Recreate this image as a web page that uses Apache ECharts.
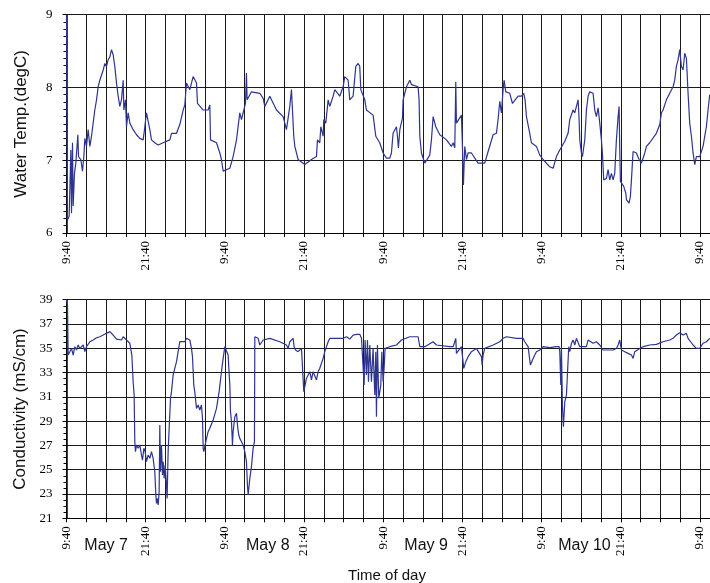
<!DOCTYPE html>
<html>
<head>
<meta charset="utf-8">
<script src="https://cdn.jsdelivr.net/npm/echarts@6/dist/echarts.min.js"></script>
<style>
  html, body { margin: 0; padding: 0; background: #fff; }
  #chart { width: 710px; height: 583px; }
</style>
</head>
<body>
<div id="chart"></div>
<script>
// hours since May 7 9:40
const clockHours = [0, 12, 24, 36, 48, 60, 72, 84, 96];
const clockLabels = ['9:40', '21:40', '9:40', '21:40', '9:40', '21:40', '9:40', '21:40', '9:40'];
const dayHours = [6, 30.5, 54.5, 78.5];
const dayLabels = ['May 7', 'May 8', 'May 9', 'May 10'];

// [hours, degC]
const waterTemp = [[0,9],[0.15,6.18],[0.4,6.23],[0.66,7.14],[0.76,6.27],[0.91,7.24],[1.01,6.37],[1.21,6.82],[1.41,6.96],[1.72,7.35],[1.82,7.05],[2.17,7.01],[2.42,6.85],[2.63,7.05],[2.78,7.3],[3.03,7.19],[3.28,7.42],[3.54,7.19],[3.79,7.33],[4.04,7.51],[4.29,7.69],[4.55,7.83],[4.8,8.01],[5.05,8.1],[5.3,8.08],[5.56,8.24],[5.81,8.33],[6.06,8.29],[6.31,8.38],[6.57,8.42],[6.82,8.52],[7.07,8.45],[7.32,8.29],[7.58,8.06],[7.83,7.88],[8.08,7.74],[8.33,7.83],[8.59,8.1],[8.69,7.69],[8.94,7.83],[9.09,7.46],[9.34,7.65],[9.6,7.51],[10.1,7.42],[10.61,7.35],[11.11,7.3],[11.62,7.28],[11.87,7.46],[12.12,7.65],[12.37,7.65],[12.63,7.42],[12.88,7.28],[13.38,7.24],[13.89,7.21],[14.65,7.24],[15.66,7.28],[15.91,7.37],[16.67,7.37],[17.17,7.49],[17.68,7.69],[17.93,7.76],[18.18,8.06],[18.69,7.97],[19.19,8.15],[19.44,8.17],[19.7,8.06],[19.85,7.78],[20.71,7.69],[21.46,7.69],[21.72,7.76],[21.82,7.28],[22.73,7.24],[23.23,7.1],[23.48,7.01],[23.74,6.85],[24.75,6.89],[25.25,7.05],[25.76,7.28],[26.26,7.65],[26.52,7.56],[27.12,7.78],[27.27,8.2],[27.37,7.83],[28.03,7.94],[29.29,7.92],[29.8,7.85],[30.05,7.74],[30.81,7.88],[31.82,7.69],[32.83,7.6],[33.33,7.42],[33.59,7.4],[33.84,7.74],[34.09,7.97],[34.34,7.99],[34.44,7.33],[34.6,7.19],[35.1,7.01],[36.11,6.94],[37.12,7.01],[37.88,7.05],[38.03,7.28],[38.38,7.24],[38.54,7.46],[38.89,7.33],[38.99,7.56],[39.29,7.51],[39.65,7.83],[39.9,7.74],[40.4,7.88],[40.66,7.97],[41.41,7.88],[41.92,8.01],[42.17,8.15],[42.68,8.1],[42.93,7.83],[43.43,7.88],[43.84,8.29],[44.19,8.33],[44.44,8.29],[44.6,7.97],[45.2,7.83],[45.45,7.69],[46.46,7.62],[46.87,7.33],[47.47,7.24],[47.98,7.1],[48.48,7.03],[48.99,7.03],[49.24,7.1],[49.49,7.37],[50,7.46],[50.15,7.33],[50.3,7.17],[50.51,7.42],[50.91,7.58],[51.01,7.83],[51.52,8.01],[52.02,8.1],[52.27,8.04],[53.28,8.01],[53.43,7.83],[53.54,7.33],[53.79,7.1],[54.29,6.96],[55.05,7.07],[55.3,7.28],[55.56,7.6],[55.66,7.62],[55.96,7.46],[56.57,7.35],[57.58,7.28],[58.33,7.19],[58.59,7.24],[58.84,7.17],[58.99,8.08],[59.09,7.51],[59.85,7.62],[60,7.19],[60.15,6.66],[60.35,7.19],[60.61,7.01],[60.86,7.1],[61.36,7.1],[62.37,6.96],[63.38,6.96],[63.89,7.12],[64.65,7.35],[65.15,7.37],[65.4,7.56],[65.66,7.81],[65.91,7.65],[66.16,7.97],[66.31,8.1],[66.57,7.94],[67.17,7.92],[67.58,7.78],[68.43,7.88],[68.94,7.88],[69.29,7.92],[69.49,7.83],[69.7,7.6],[70.2,7.37],[70.45,7.24],[71.21,7.19],[71.72,7.07],[72.22,7.01],[73.23,6.91],[73.74,6.89],[74.24,7.05],[74.75,7.14],[75.51,7.26],[76.01,7.37],[76.26,7.56],[76.77,7.69],[77.02,7.65],[77.53,7.83],[77.68,7.56],[77.78,7.28],[78.03,7.1],[78.18,7.05],[78.54,7.28],[78.79,7.69],[79.04,7.88],[79.29,7.94],[79.8,7.92],[80.05,7.69],[80.3,7.6],[80.56,7.72],[80.81,7.51],[81.06,7.28],[81.21,7.1],[81.41,6.73],[81.82,6.75],[82.07,6.87],[82.32,6.73],[82.58,6.82],[82.83,6.73],[83.08,6.82],[83.33,7.28],[83.59,7.6],[83.74,7.74],[83.84,7.14],[83.94,6.71],[84.44,6.64],[84.75,6.55],[84.85,6.46],[85.25,6.41],[85.45,6.5],[85.61,6.73],[85.86,7.12],[86.36,7.1],[86.77,7.01],[87.12,6.96],[87.63,7.1],[87.88,7.19],[88.38,7.24],[89.39,7.37],[89.9,7.49],[90.15,7.65],[90.4,7.69],[90.91,7.83],[91.92,8.01],[92.17,8.1],[92.42,8.29],[92.68,8.38],[92.93,8.52],[93.18,8.29],[93.43,8.24],[93.69,8.47],[93.94,8.4],[94.19,7.92],[94.44,7.51],[94.7,7.33],[94.95,7.1],[95.2,6.94],[95.45,7.05],[95.96,7.05],[96.46,7.19],[96.72,7.33],[96.97,7.46],[97.22,7.69],[97.47,7.9]];

// [hours, mS/cm]
const conductivity = [[0,39],[0.15,38.56],[0.25,34.44],[0.51,34.3],[0.76,34.99],[1.01,34.44],[1.26,35.13],[1.52,34.86],[1.77,35.27],[2.02,34.99],[2.53,35.27],[2.78,34.72],[3.03,35.13],[3.54,35.54],[4.04,35.68],[4.55,35.87],[5.05,35.95],[5.56,36.09],[6.06,36.23],[6.57,36.37],[7.07,36.09],[7.58,35.76],[8.33,35.68],[8.59,35.95],[9.09,35.68],[9.6,35.41],[9.75,35.41],[9.9,34.44],[10,33.35],[10.1,32.25],[10.25,31.15],[10.35,27.31],[10.45,26.49],[10.61,27.04],[10.86,26.76],[11.11,27.04],[11.36,26.21],[11.52,25.8],[11.72,26.76],[11.92,26.49],[12.12,25.66],[12.37,26.21],[12.63,25.94],[12.88,26.49],[13.13,25.94],[13.38,24.84],[13.54,22.92],[13.64,22.23],[13.74,22.64],[13.89,22.1],[14.04,23.19],[14.14,28.68],[14.24,24.84],[14.39,27.04],[14.55,24.57],[14.65,25.66],[14.8,24.29],[14.95,25.39],[15.15,23.74],[15.25,22.64],[15.4,26.49],[15.56,28.41],[15.76,30.88],[15.91,31.43],[16.16,32.8],[16.41,33.35],[16.67,33.9],[16.92,34.72],[17.17,35.54],[17.93,35.54],[18.18,35.82],[18.43,35.95],[18.69,35.68],[18.94,34.99],[19.09,34.31],[19.29,31.97],[19.44,31.43],[19.7,30.05],[19.95,30.33],[20.2,29.92],[20.45,30.33],[20.61,29.23],[20.71,26.76],[20.81,26.49],[21.11,27.31],[21.46,28.13],[21.72,28.41],[22.22,29.09],[22.73,30.05],[23.13,31.43],[23.48,33.07],[23.74,34.17],[23.99,35.13],[24.24,34.99],[24.49,34.44],[24.75,31.97],[24.85,29.78],[25,28.96],[25.15,27.04],[25.25,28.13],[25.51,29.37],[25.76,29.64],[25.96,28.41],[26.11,27.86],[26.26,27.58],[26.52,27.31],[26.77,27.04],[27.02,26.49],[27.27,25.66],[27.42,23.74],[27.53,22.92],[27.78,24.29],[28.03,25.25],[28.28,26.76],[28.48,27.31],[28.54,35.95],[29.04,35.82],[29.29,35.27],[29.8,35.68],[30.81,35.82],[32.32,35.54],[33.33,35.27],[33.59,34.99],[33.84,35.54],[34.34,35.82],[34.49,35.13],[34.7,34.86],[35.1,34.72],[35.61,34.99],[35.86,35.13],[35.96,31.43],[36.36,32.52],[36.87,33.07],[37.12,32.39],[37.37,33.07],[37.88,32.39],[38.13,33.07],[38.38,33.35],[38.89,34.17],[39.14,34.72],[39.65,35.54],[39.9,35.82],[40.91,35.82],[41.92,35.82],[42.42,35.95],[42.93,35.76],[43.43,36.09],[43.94,36.15],[44.44,36.15],[44.7,35.82],[44.95,35.68],[45.1,31.97],[45.25,35.68],[45.45,32.8],[45.61,35.68],[45.76,32.25],[45.96,35.27],[46.21,32.25],[46.46,34.99],[46.72,31.15],[46.87,34.72],[46.97,29.37],[47.12,35.27],[47.32,30.88],[47.47,30.74],[47.63,31.97],[47.78,34.72],[47.98,32.25],[48.13,33.35],[48.28,34.99],[48.99,35.13],[50,35.27],[50.76,35.68],[52.02,35.95],[53.28,35.95],[53.54,35.13],[54.29,35.13],[55.56,35.54],[56.06,35.27],[58.08,35.13],[58.59,35.13],[58.99,35.82],[59.09,34.58],[59.85,35.13],[60.1,34.99],[60.2,33.35],[60.51,33.9],[60.86,34.31],[61.36,34.72],[61.62,34.58],[62.12,34.99],[62.88,34.31],[62.98,33.62],[63.13,34.44],[63.38,34.99],[64.65,35.27],[65.66,35.54],[66.16,35.82],[66.67,35.95],[68.18,35.82],[69.19,35.82],[69.44,35.54],[69.95,35.13],[70.2,35.13],[70.3,33.62],[70.61,34.03],[70.96,34.44],[71.21,34.72],[71.72,34.86],[72.22,35.13],[73.23,35.05],[74.24,35.13],[74.65,35.13],[74.75,34.72],[74.9,31.97],[75,35.13],[75.15,30.33],[75.3,28.54],[75.51,30.6],[75.76,31.15],[76.01,31.29],[76.11,35.13],[76.26,34.72],[76.52,35.41],[76.77,35.68],[77.02,35.27],[77.27,35.82],[77.53,35.68],[77.78,35.13],[78.79,35.13],[79.04,35.68],[79.29,35.82],[79.8,35.41],[80.3,35.54],[80.81,35.27],[81.31,34.86],[82.83,34.86],[83.08,34.72],[83.33,34.99],[83.59,35.27],[83.84,35.68],[84.09,34.86],[84.6,34.72],[85.1,34.58],[85.61,34.44],[85.86,34.17],[86.11,34.72],[86.36,34.86],[86.87,34.99],[87.37,35.13],[88.38,35.27],[89.39,35.32],[90.4,35.54],[91.41,35.68],[91.92,35.82],[92.42,36.09],[92.93,36.28],[93.43,36.09],[93.94,36.23],[94.19,35.82],[94.44,35.68],[94.95,35.27],[95.45,34.99],[95.96,34.99],[96.46,35.41],[96.97,35.54],[97.47,35.82]];

const serif = 'Liberation Serif';
const sans = 'Liberation Sans';
const gridColor = '#1a1a1a';
const lineColor = '#2d3591';

function timeAxis(gridIndex){
    return {
        type: 'value',
        gridIndex: gridIndex,
        min: 0,
        max: 99,
        interval: 3,
        axisLine: { show: true, lineStyle: { color: '#000', width: 1 } },
        axisTick: { show: true, length: 4, lineStyle: { color: '#000' } },
        axisLabel: {
            rotate: 90,
            margin: 8,
            fontFamily: serif,
            fontSize: 13,
            color: '#000',
            formatter: function(v){
                const i = clockHours.indexOf(v);
                return i >= 0 ? clockLabels[i] : '';
            }
        },
        splitLine: { show: true, lineStyle: { color: gridColor, width: 1 } }
    };
}

function valueAxis(gridIndex, min, max, interval, name, minorSplit){
    return {
        type: 'value',
        gridIndex: gridIndex,
        min: min,
        max: max,
        interval: interval,
        name: name,
        nameLocation: 'middle',
        nameGap: 37,
        nameTextStyle: { fontFamily: sans, fontSize: 17, color: '#111' },
        axisLine: { show: true, lineStyle: { color: '#000', width: 1.5 } },
        axisTick: { show: true, length: 4, lineStyle: { color: '#000' } },
        minorTick: { show: true, splitNumber: minorSplit, length: 3, lineStyle: { color: '#000' } },
        axisLabel: { margin: 14, fontFamily: serif, fontSize: 13, color: '#000' },
        splitLine: { show: true, lineStyle: { color: gridColor, width: 1 } }
    };
}

const chart = echarts.init(document.getElementById('chart'), null, { renderer: 'canvas' });
chart.setOption({
    animation: false,
    backgroundColor: '#fff',
    title: {
        text: 'Time of day',
        left: 382,
        top: 563,
        textAlign: 'center',
        textStyle: { fontFamily: sans, fontSize: 15, fontWeight: 'normal', color: '#111' }
    },
    grid: [
        { left: 66.5, width: 653.3, top: 14.7, height: 218.3, outerBoundsMode: 'none', containLabel: false },
        { left: 66.5, width: 653.3, top: 299.7, height: 218.6, outerBoundsMode: 'none', containLabel: false }
    ],
    xAxis: [
        timeAxis(0),
        timeAxis(1),
        {
            type: 'value',
            gridIndex: 1,
            position: 'bottom',
            min: 0,
            max: 99,
            interval: 0.5,
            axisLine: { show: false },
            axisTick: { show: false },
            splitLine: { show: false },
            axisLabel: {
                margin: 19,
                fontFamily: sans,
                fontSize: 16,
                color: '#111',
                formatter: function(v){
                    const i = dayHours.indexOf(v);
                    return i >= 0 ? dayLabels[i] : '';
                }
            }
        }
    ],
    yAxis: [
        valueAxis(0, 6, 9, 1, 'Water Temp.(degC)', 10),
        valueAxis(1, 21, 39, 2, 'Conductivity (mS/cm)', 4)
    ],
    series: [
        {
            type: 'line',
            xAxisIndex: 0,
            yAxisIndex: 0,
            data: waterTemp,
            showSymbol: false,
            lineStyle: { color: lineColor, width: 1.2 }
        },
        {
            type: 'line',
            xAxisIndex: 1,
            yAxisIndex: 1,
            data: conductivity,
            showSymbol: false,
            lineStyle: { color: lineColor, width: 1.2 }
        }
    ]
});
</script>
</body>
</html>
